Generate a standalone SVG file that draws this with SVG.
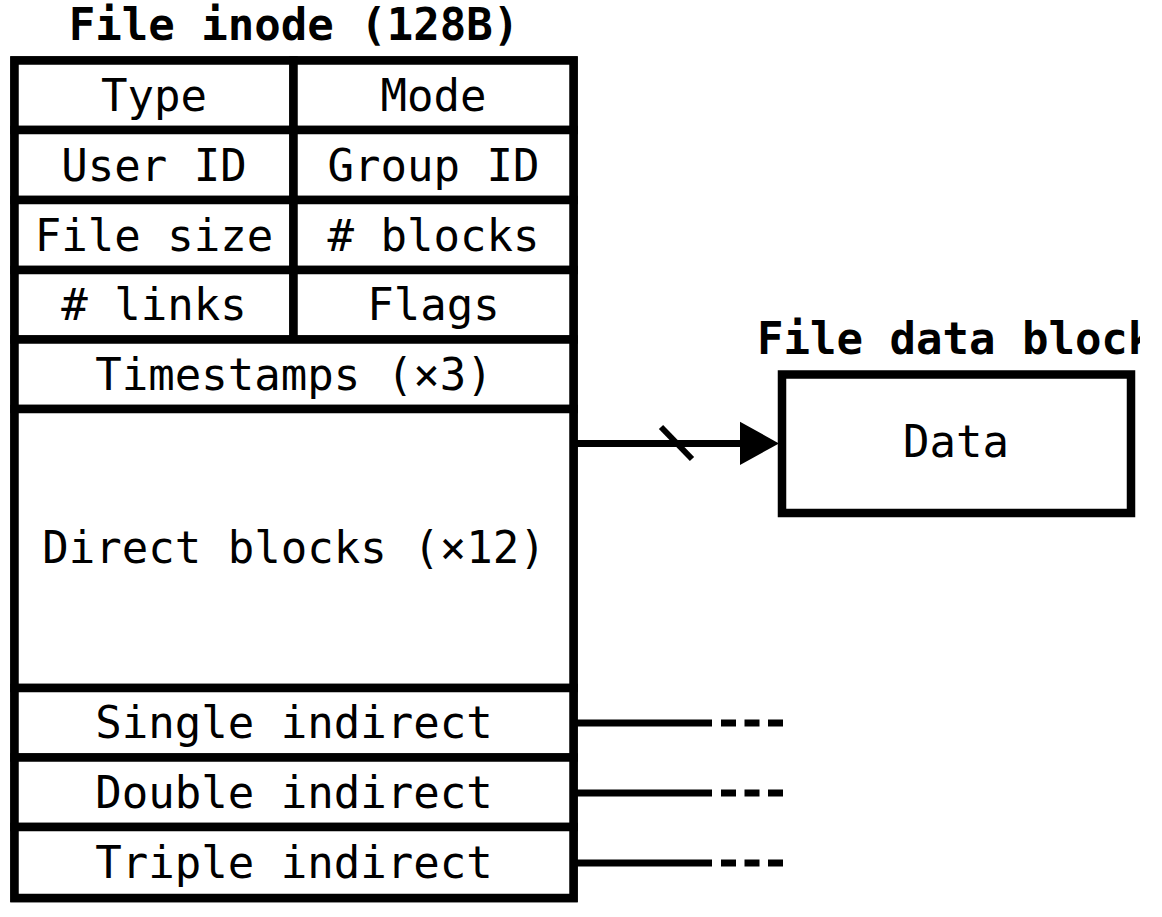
<svg xmlns="http://www.w3.org/2000/svg" width="1162" height="917" viewBox="0 0 1162 917">
<style>
.cell{fill:#fff;stroke:#000;stroke-width:8.5}
.t{font-family:"DejaVu Sans Mono","Liberation Mono",monospace;font-size:44px;fill:#000;text-anchor:middle}
.h{font-family:"DejaVu Sans Mono","Liberation Mono",monospace;font-size:44px;font-weight:bold;fill:#000}
.ln{stroke:#000;stroke-width:7;fill:none}
</style>
<defs>
<clipPath id="clip"><rect x="0" y="0" width="1140" height="917"/></clipPath>
</defs>
<rect x="0" y="0" width="1162" height="917" fill="#fff"/>
<g id="inode">
<text class="h" x="294" y="40" text-anchor="middle">File inode (128B)</text>
<rect class="cell" x="14.5" y="60.5" width="559" height="837.5"/>
<g id="type"><rect class="cell" x="14.5" y="60.5" width="279" height="69.5"/><text class="t" x="154" y="111">Type</text></g>
<g id="mode"><rect class="cell" x="293.5" y="60.5" width="280" height="69.5"/><text class="t" x="433.5" y="111">Mode</text></g>
<g id="uid"><rect class="cell" x="14.5" y="130" width="279" height="70"/><text class="t" x="154" y="180.5">User ID</text></g>
<g id="gid"><rect class="cell" x="293.5" y="130" width="280" height="70"/><text class="t" x="433.5" y="180.5">Group ID</text></g>
<g id="fsize"><rect class="cell" x="14.5" y="200" width="279" height="70"/><text class="t" x="154" y="250.5">File size</text></g>
<g id="nblocks"><rect class="cell" x="293.5" y="200" width="280" height="70"/><text class="t" x="433.5" y="250.5"># blocks</text></g>
<g id="links"><rect class="cell" x="14.5" y="270" width="279" height="69.5"/><text class="t" x="154" y="320"># links</text></g>
<g id="flags"><rect class="cell" x="293.5" y="270" width="280" height="69.5"/><text class="t" x="433.5" y="320">Flags</text></g>
<g id="ts"><rect class="cell" x="14.5" y="339.5" width="559" height="69.5"/><text class="t" x="294" y="389.5">Timestamps (×3)</text></g>
<g id="direct"><rect class="cell" x="14.5" y="409" width="559" height="279"/><text class="t" x="294" y="563">Direct blocks (×12)</text></g>
<g id="single"><rect class="cell" x="14.5" y="688" width="559" height="69.5"/><text class="t" x="294" y="738">Single indirect</text></g>
<g id="double"><rect class="cell" x="14.5" y="757.5" width="559" height="69.5"/><text class="t" x="294" y="808">Double indirect</text></g>
<g id="triple"><rect class="cell" x="14.5" y="827" width="559" height="71"/><text class="t" x="294" y="877.5">Triple indirect</text></g>
</g>
<g id="datablock">
<text class="h" x="757" y="354" clip-path="url(#clip)">File data block</text>
<rect class="cell" x="782" y="374.5" width="349" height="138.5"/>
<text class="t" x="956" y="457">Data</text>
</g>
<g id="connectors">
<line class="ln" x1="577" y1="443.5" x2="742" y2="443.5"/>
<polygon points="740,421.7 779,443.5 740,465" fill="#000"/>
<line x1="661" y1="427" x2="692" y2="459" stroke="#000" stroke-width="6"/>
<line class="ln" x1="577" y1="723" x2="712" y2="723"/>
<line class="ln" x1="721" y1="723" x2="783" y2="723" stroke-dasharray="15 8.5"/>
<line class="ln" x1="577" y1="793" x2="712" y2="793"/>
<line class="ln" x1="721" y1="793" x2="783" y2="793" stroke-dasharray="15 8.5"/>
<line class="ln" x1="577" y1="863" x2="712" y2="863"/>
<line class="ln" x1="721" y1="863" x2="783" y2="863" stroke-dasharray="15 8.5"/>
</g>
</svg>
